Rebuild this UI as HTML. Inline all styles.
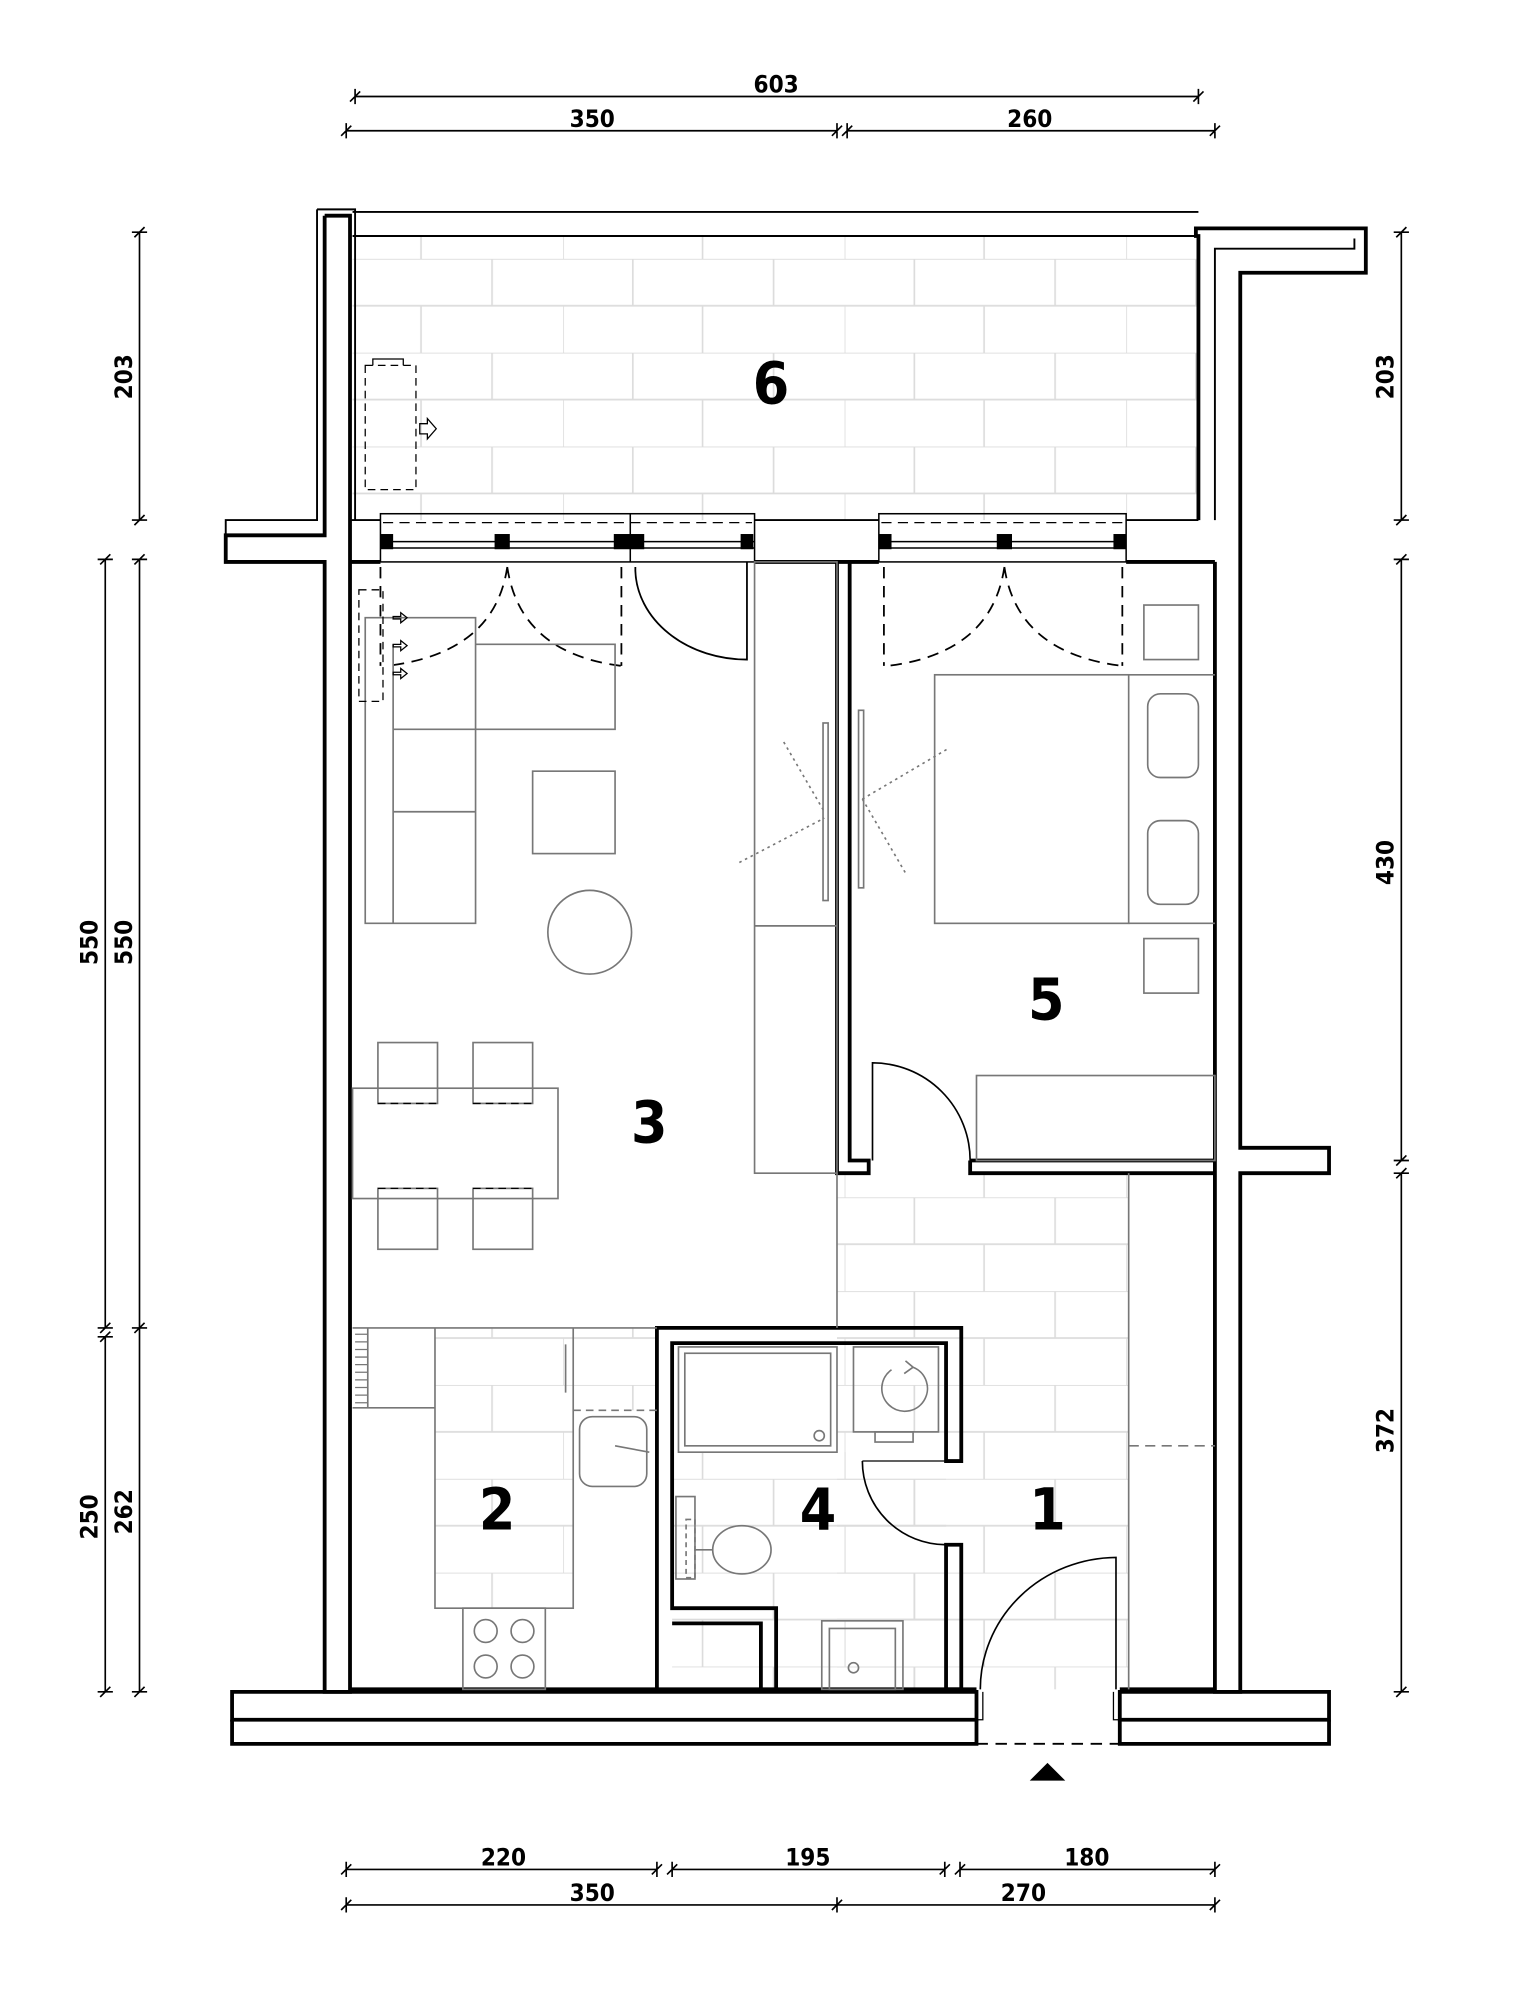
<!DOCTYPE html>
<html><head><meta charset="utf-8"><style>
html,body{margin:0;padding:0;background:#fff}
svg{display:block}
text{font-family:"DejaVu Sans Condensed","DejaVu Sans","Liberation Sans",sans-serif}
</style></head><body>
<svg width="1518" height="1990" viewBox="0 0 1197 1569" xmlns="http://www.w3.org/2000/svg">
<defs>
<pattern id="tile" width="222" height="74" patternUnits="userSpaceOnUse" x="0" y="204">
<path d="M0 0H222M0 37H222M55 0V37M166 0V37M110 37V74M0 37V74" stroke="#dcdcdc" stroke-width="1.3" fill="none"/>
</pattern>
</defs>
<rect width="1197" height="1569" fill="#fff"/>

<rect x="278" y="186" width="667" height="224" fill="url(#tile)"/>
<rect x="660" y="925" width="230" height="407" fill="url(#tile)"/>
<rect x="530" y="1145" width="216" height="187" fill="url(#tile)"/>
<rect x="343" y="1047" width="109" height="221" fill="url(#tile)"/>
<rect x="452" y="1047" width="66" height="65" fill="url(#tile)"/>

<g fill="none" stroke="#000">
<path d="M278 167H945M278 186H945" stroke-width="1.5"/>
<path d="M250 165H280V410M250 165V410H178V443" stroke-width="1.5"/>
<path d="M256 170H276V443M256 170V422H178V443H256V1334H276V443" stroke-width="3"/>
<path d="M276 443H300M595 443H693M888 443H958" stroke-width="3"/>
<path d="M276 410H300M595 410H693M888 410H945" stroke-width="1.5"/>
<path d="M945 410V186H943V180H1077V215H978V905H1048V925H978V1334H958V443" stroke-width="3"/>
<path d="M958 410V196H1068V188" stroke-width="1.5"/>
<path d="M183 1334H770V1356H183ZM883 1334H1048V1356H883Z" stroke-width="3"/>
<path d="M183 1356V1375H770V1356M883 1356V1375H1048V1356" stroke-width="3"/>
<path d="M276 1332H770M883 1332H958" stroke-width="3"/>
<path d="M770 1375H883" stroke-width="1.5" stroke-dasharray="9,6"/>
<path d="M770 1334V1356H775V1334M883 1334V1356H878V1334" stroke-width="1"/>
<g stroke-width="1.2">
<rect x="300" y="405" width="295" height="38"/>
<rect x="693" y="405" width="195" height="38"/>
<path d="M497 405V443M300 427H595M693 427H888M300 432H595M693 432H888"/>
</g>
<path d="M302 412H593M695 412H886" stroke-width="1" stroke-dasharray="8,5"/>
<g fill="#000" stroke="none">
<rect x="300" y="421" width="10" height="12"/><rect x="390" y="421" width="12" height="12"/><rect x="484" y="421" width="24" height="12"/><rect x="584" y="421" width="10" height="12"/>
<rect x="693" y="421" width="10" height="12"/><rect x="786" y="421" width="12" height="12"/><rect x="878" y="421" width="10" height="12"/>
</g>
<path d="M660 443V925H685V915H670V443M765 915V925H958M765 915H958" stroke-width="3"/>
<path d="M688 915V838A77 77 0 0 1 765 915" stroke-width="1.3"/>
<path d="M300 447V525M490 447V525M400 447Q390 515 305 525M400 447Q410 515 490 525" stroke-width="1.4" stroke-dasharray="9,6"/>
<path d="M697 447V525M885 447V525M792 447Q782 515 700 525M792 447Q802 515 885 525" stroke-width="1.4" stroke-dasharray="9,6"/>
<path d="M501 447V450A88 72 0 0 0 589 520V443" stroke-width="1.4"/>
<path d="M518 1332V1047H758V1152H746V1059H530V1268H612V1332M530 1280H600V1332M746 1218H758V1332H746Z" stroke-width="3"/>
<path d="M680 1152H758M746 1218V1230" stroke-width="1"/>
<path d="M680 1152A66 66 0 0 0 746 1218" stroke-width="1.3"/>
<path d="M880 1332V1228A108 104 0 0 0 773 1332" stroke-width="1.3"/>
</g>

<g fill="none" stroke="#777" stroke-width="1.3">
<rect x="595" y="443" width="65" height="482"/>
<path d="M595 730H660"/>
<rect x="649" y="570" width="4" height="140"/>
<rect x="677" y="560" width="4" height="140"/>
<path d="M583 680L650 645M618 585L650 640M680 630L748 590M680 630L715 690" stroke-dasharray="2,3"/>
<path d="M288 728V487H375V508H485V575H375V728ZM310 508V728M310 575H375M310 640H375M375 508V575"/>
<rect x="420" y="608" width="65" height="65"/>
<circle cx="465" cy="735" r="33"/>
<rect x="278" y="858" width="162" height="87"/>
<rect x="298" y="822" width="47" height="48"/><rect x="373" y="822" width="47" height="48"/>
<rect x="298" y="937" width="47" height="48"/><rect x="373" y="937" width="47" height="48"/>
<rect x="737" y="532" width="153" height="196"/>
<path d="M890 532H958M890 728H958"/>
<rect x="905" y="547" width="40" height="66" rx="10"/>
<rect x="905" y="647" width="40" height="66" rx="10"/>
<rect x="902" y="477" width="43" height="43"/>
<rect x="902" y="740" width="43" height="43"/>
<rect x="770" y="848" width="188" height="67"/>
<path d="M660 925V1047M890 925V1332"/>
<path d="M890 1140H958" stroke-dasharray="8,5"/>
<path d="M278 1047H518M343 1047V1268H452V1047M278 1110H343M290 1047V1110"/>
<path d="M280 1052H290M280 1058H290M280 1064H290M280 1070H290M280 1076H290M280 1082H290M280 1088H290M280 1094H290M280 1100H290M280 1106H290" stroke-width="1"/>
<rect x="365" y="1268" width="65" height="64"/>
<circle cx="383" cy="1286" r="9"/><circle cx="412" cy="1286" r="9"/><circle cx="383" cy="1314" r="9"/><circle cx="412" cy="1314" r="9"/>
<rect x="457" y="1117" width="53" height="55" rx="10"/>
<path d="M485 1140L512 1145M446 1060V1098"/>
<path d="M452 1112H518" stroke-dasharray="6,4"/>
<rect x="535" y="1062" width="125" height="83"/>
<rect x="540" y="1067" width="115" height="73"/>
<circle cx="646" cy="1132" r="4"/>
<rect x="673" y="1062" width="67" height="67"/>
<path d="M703 1080A18 18 0 1 0 720 1078M714 1073L720 1078L713 1083"/>
<rect x="690" y="1129" width="30" height="8"/>
<ellipse cx="585" cy="1222" rx="23" ry="19"/>
<path d="M548 1222H562"/>
<rect x="533" y="1180" width="15" height="65"/>
<rect x="541" y="1198" width="7" height="46" stroke-dasharray="4,3"/>
<rect x="648" y="1278" width="64" height="54"/>
<rect x="654" y="1284" width="52" height="48"/>
<circle cx="673" cy="1315" r="4"/>
</g>
<g fill="none" stroke="#000" stroke-width="1" stroke-dasharray="6,4">
<path d="M298 870H345M373 870H420M298 937H345M373 937H420"/>
<rect x="283" y="465" width="19" height="88"/>
<rect x="288" y="288" width="40" height="98"/>
</g>
<g fill="none" stroke="#000" stroke-width="1">
<path d="M294 288V283H318V288"/>
<path d="M331 334H337V330L344 338L337 346V342H331Z"/>
<path d="M310 486h6v-3l5 4l-5 4v-3h-6zM310 508h6v-3l5 4l-5 4v-3h-6zM310 530h6v-3l5 4l-5 4v-3h-6z"/>
</g>
<path d="M812 1404H840L826 1390Z" fill="#000"/>

<g stroke="#000" stroke-width="1.3" fill="none">
<path d="M280 76H945M273 103H660M668 103H958M273 1474H518M530 1474H745M757 1474H958M273 1502H958"/>
<path d="M110 183V410M110 441V1334M83 441V1047M83 1054V1334M1105 183V410M1105 441V915M1105 925V1334"/>
<path d="M280 70V82M276 80L284 72M945 70V82M941 80L949 72M273 97V109M269 107L277 99M660 97V109M656 107L664 99M668 97V109M664 107L672 99M958 97V109M954 107L962 99"/>
<path d="M273 1468V1480M269 1478L277 1470M518 1468V1480M514 1478L522 1470M530 1468V1480M526 1478L534 1470M745 1468V1480M741 1478L749 1470M757 1468V1480M753 1478L761 1470M958 1468V1480M954 1478L962 1470"/>
<path d="M273 1496V1508M269 1506L277 1498M660 1496V1508M656 1506L664 1498M958 1496V1508M954 1506L962 1498"/>
<path d="M104 183H116M106 187L114 179M104 410H116M106 414L114 406M104 441H116M106 445L114 437M104 1047H116M106 1051L114 1043M104 1334H116M106 1338L114 1330"/>
<path d="M77 441H89M79 445L87 437M77 1047H89M79 1051L87 1043M77 1054H89M79 1058L87 1050M77 1334H89M79 1338L87 1330"/>
<path d="M1099 183H1111M1101 187L1109 179M1099 410H1111M1101 414L1109 406M1099 441H1111M1101 445L1109 437M1099 915H1111M1101 919L1109 911M1099 925H1111M1101 929L1109 921M1099 1334H1111M1101 1338L1109 1330"/>
</g>
<g font-size="19" font-weight="bold" text-anchor="middle" fill="#000">
<text x="612" y="73">603</text>
<text x="467" y="100">350</text>
<text x="812" y="100">260</text>
<text x="397" y="1471">220</text>
<text x="637" y="1471">195</text>
<text x="857" y="1471">180</text>
<text x="467" y="1499">350</text>
<text x="807" y="1499">270</text>
<text transform="translate(104 297) rotate(-90)">203</text>
<text transform="translate(104 743) rotate(-90)">550</text>
<text transform="translate(104 1192) rotate(-90)">262</text>
<text transform="translate(77 743) rotate(-90)">550</text>
<text transform="translate(77 1196) rotate(-90)">250</text>
<text transform="translate(1099 297) rotate(-90)">203</text>
<text transform="translate(1099 680) rotate(-90)">430</text>
<text transform="translate(1099 1128) rotate(-90)">372</text>
</g>
<g font-size="46" font-weight="bold" text-anchor="middle" fill="#000" style="font-family:'Liberation Sans',sans-serif">
<text x="608" y="318">6</text>
<text x="512" y="901">3</text>
<text x="825" y="804">5</text>
<text x="392" y="1206">2</text>
<text x="645" y="1206">4</text>
<text x="826" y="1206">1</text>
</g>
</svg>
</body></html>
